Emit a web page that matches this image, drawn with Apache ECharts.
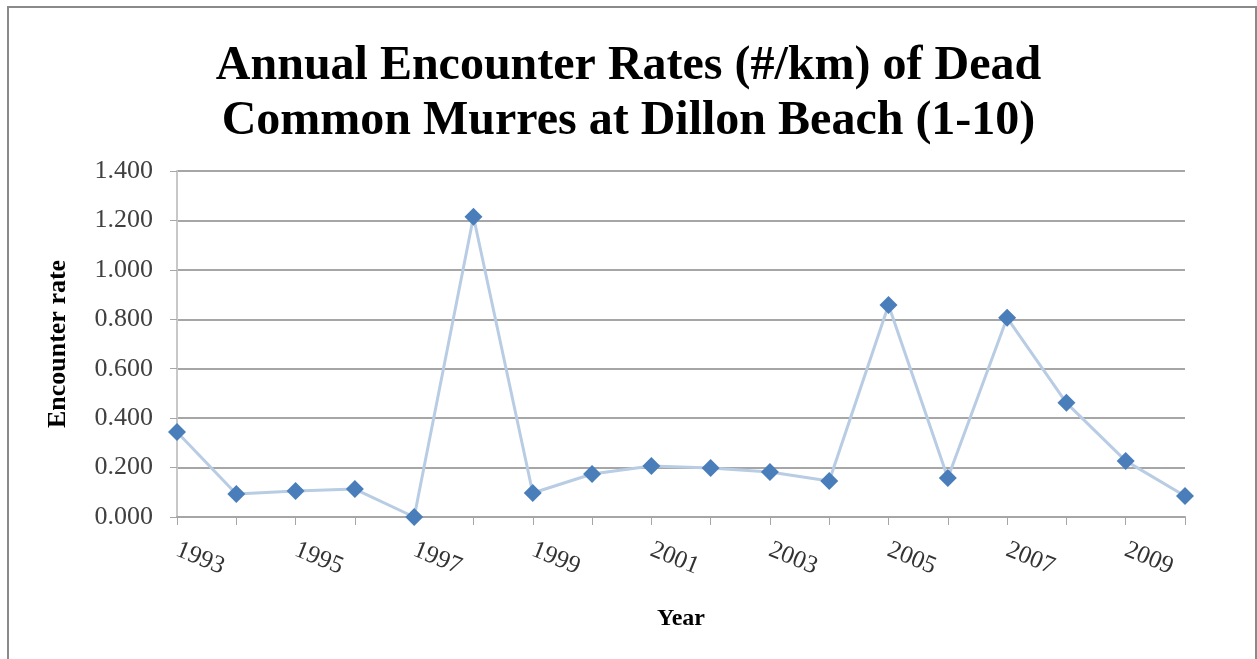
<!DOCTYPE html>
<html>
<head>
<meta charset="utf-8">
<script src="https://cdn.jsdelivr.net/npm/echarts@6/dist/echarts.min.js"></script>
<style>
  html, body { margin: 0; padding: 0; background: #fff; }
  #chart { width: 1257px; height: 659px; }
</style>
</head>
<body>
<div id="chart"></div>
<script>
// years on the x axis
const years = ["1993", "1994", "1995", "1996", "1997", "1998", "1999", "2000", "2001",
  "2002", "2003", "2004", "2005", "2006", "2007", "2008", "2009", "2010"];
// encounter rate (#/km)
const rates = [0.344, 0.093, 0.105, 0.113, 0.000, 1.215, 0.097, 0.174, 0.206,
  0.198, 0.182, 0.146, 0.858, 0.158, 0.806, 0.462, 0.227, 0.085];

const serif = "'Liberation Serif', 'Times New Roman', serif";

const chart = echarts.init(document.getElementById("chart"));
chart.setOption({
  animation: false,
  backgroundColor: "#fff",
  title: {
    text: "Annual Encounter Rates (#/km) of Dead\nCommon Murres at Dillon Beach (1-10)",
    left: "center",
    top: 34,
    textStyle: {
      fontFamily: serif,
      fontWeight: "bold",
      fontSize: 48,
      lineHeight: 55,
      color: "#000"
    }
  },
  graphic: [
    {
      type: "polyline",
      shape: { points: [[8, 659], [8, 7], [1256, 7], [1256, 659]] },
      style: { stroke: "#8a8a8a", lineWidth: 2, fill: null }
    }
  ],
  grid: { left: 177, right: 72, top: 171, bottom: 142 },
  xAxis: {
    type: "category",
    data: years,
    boundaryGap: false,
    name: "Year",
    nameLocation: "middle",
    nameGap: 90,
    nameTextStyle: { fontFamily: serif, fontWeight: "bold", fontSize: 24, color: "#000" },
    axisLine: { lineStyle: { color: "#a6a6a6", width: 2 } },
    axisTick: { show: true, interval: 0, length: 8, lineStyle: { color: "#a6a6a6" } },
    axisLabel: {
      interval: 1,
      rotate: -22,
      margin: 32,
      fontFamily: serif,
      fontSize: 25,
      color: "#333"
    },
    splitLine: { show: false }
  },
  yAxis: {
    type: "value",
    min: 0,
    max: 1.4,
    interval: 0.2,
    name: "Encounter rate",
    nameLocation: "middle",
    nameGap: 106,
    nameTextStyle: { fontFamily: serif, fontWeight: "bold", fontSize: 26, color: "#000" },
    axisLine: { show: true, lineStyle: { color: "#c8c8c8", width: 2 } },
    axisTick: { show: true, length: 7, lineStyle: { color: "#a6a6a6" } },
    axisLabel: {
      margin: 24,
      fontFamily: serif,
      fontSize: 26,
      color: "#404040",
      formatter: (v) => v.toFixed(3)
    },
    splitLine: { lineStyle: { color: "#a6a6a6", width: 2 } }
  },
  series: [
    {
      type: "line",
      data: rates,
      symbol: "diamond",
      symbolSize: 18,
      lineStyle: { color: "#b8cce4", width: 3 },
      itemStyle: { color: "#4a7ebb" }
    }
  ]
});
</script>
</body>
</html>
